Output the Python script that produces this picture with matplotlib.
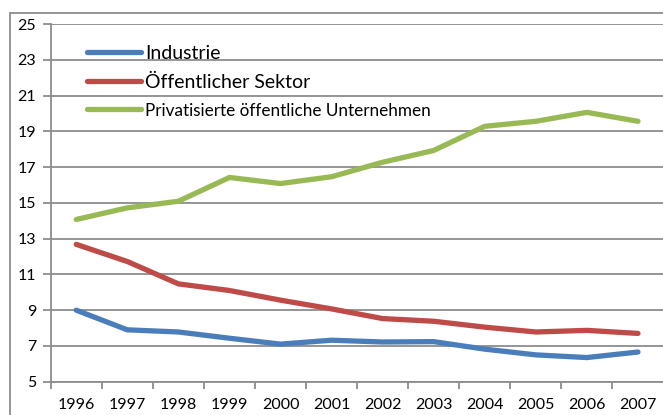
import matplotlib
matplotlib.use("Agg")
import matplotlib.pyplot as plt
from matplotlib.patches import Rectangle
from matplotlib.lines import Line2D

years = ["1996", "1997", "1998", "1999", "2000", "2001", "2002", "2003", "2004", "2005", "2006", "2007"]
industrie = [9.0, 7.9, 7.78, 7.43, 7.1, 7.32, 7.22, 7.24, 6.82, 6.5, 6.35, 6.66]
oeffentlich = [12.68, 11.72, 10.47, 10.1, 9.56, 9.07, 8.53, 8.38, 8.05, 7.78, 7.87, 7.7]
privatisiert = [14.07, 14.72, 15.09, 16.42, 16.08, 16.46, 17.27, 17.93, 19.28, 19.56, 20.06, 19.56]
labels = ["Industrie", "Öffentlicher Sektor", "Privatisierte öffentliche Unternehmen"]
colors = ["#4A7EBB", "#BE4B48", "#98B954"]
yticks = [5, 7, 9, 11, 13, 15, 17, 19, 21, 23, 25]

plt.rcParams['font.family'] = ['Lato', 'DejaVu Sans']

W, H = 663, 415
fig = plt.figure(figsize=(W / 100, H / 100), dpi=100)
fig.patch.set_facecolor("white")

# outer chart border (cropped at right/bottom)
fig.patches.append(Rectangle((10 / W, -0.05), 1.2, 1 - 13 / H + 0.05, transform=fig.transFigure,
                             fill=False, edgecolor="#8c8c8c", linewidth=1.3, zorder=0))

ax = fig.add_axes([50.7 / W, 1 - 381.7 / H, (663.5 - 50.7) / W, (381.7 - 24) / H])
x = list(range(len(years)))
for vals, c, lab in zip([industrie, oeffentlich, privatisiert], colors, labels):
    ax.plot(x, vals, color=c, linewidth=3.8, solid_capstyle="round", solid_joinstyle="round", label=lab, zorder=3)

ax.set_xlim(-0.5, len(years) - 0.5)
ax.set_ylim(5, 25)
ax.set_yticks(yticks)
ax.set_yticklabels([str(t) for t in yticks])
ax.set_xticks(x)
ax.set_xticklabels(years)
ax.set_xticks([i - 0.5 for i in range(len(years) + 1)], minor=True)
ax.tick_params(axis="x", which="major", length=0, pad=12, labelsize=11.5)
ax.tick_params(axis="x", which="minor", length=5, width=1.3, color="#8c8c8c", direction="out")
ax.tick_params(axis="y", length=5.5, width=1.3, color="#8c8c8c", pad=5, labelsize=11.5)
ax.grid(axis="y", color="#8c8c8c", linewidth=1.3, zorder=1)
ax.set_axisbelow(True)
for s in ["top", "right"]:
    ax.spines[s].set_visible(False)
for s in ["left", "bottom"]:
    ax.spines[s].set_color("#8c8c8c")
    ax.spines[s].set_linewidth(1.3)

handles = [Line2D([], [], color=c, linewidth=3.8, solid_capstyle="round") for c in colors]
leg = ax.legend(handles, labels, loc="upper left", bbox_to_anchor=(36 / 612.8, 1 - 21 / 357.7),
                frameon=False, handlelength=2.8, handletextpad=0.2, labelspacing=0.6,
                borderpad=0, borderaxespad=0, fontsize=14)
texts = leg.get_texts()
texts[2].set_fontsize(12.3)

fig.savefig("out.png", dpi=100, facecolor="white")
